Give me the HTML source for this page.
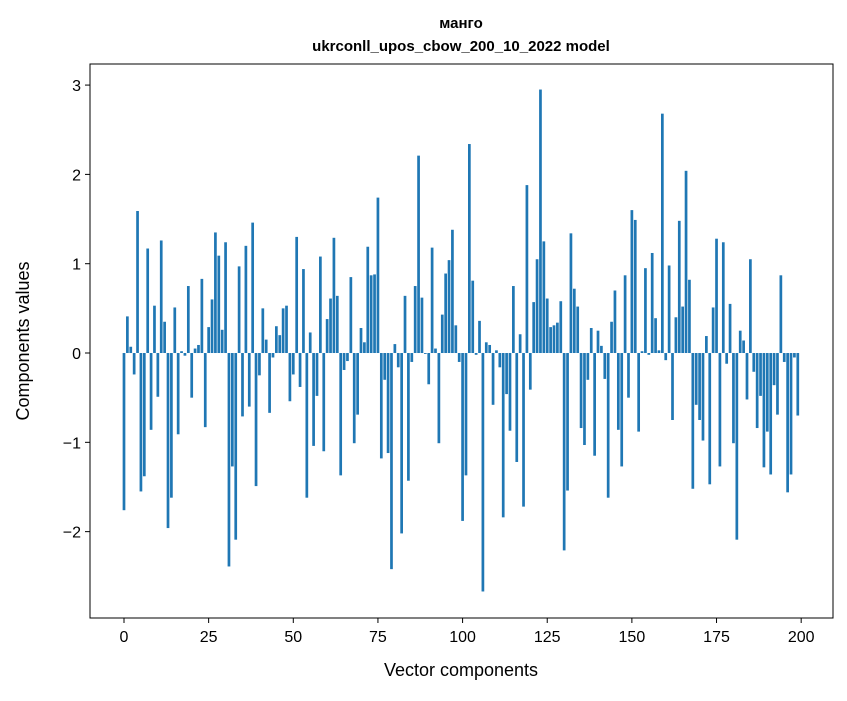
<!DOCTYPE html>
<html><head><meta charset="utf-8"><style>
body{margin:0;background:#fff;}
svg text{font-family:"Liberation Sans","DejaVu Sans",sans-serif;}
</style></head><body>
<svg id="chart" width="847" height="696" xmlns="http://www.w3.org/2000/svg">
<rect width="847" height="696" fill="#fff"/>
<text x="461" y="28" text-anchor="middle" font-size="15" font-weight="bold">манго</text>
<text x="461" y="51" text-anchor="middle" font-size="15" font-weight="bold">ukrconll_upos_cbow_200_10_2022 model</text>
<g id="bars"></g>
<g id="axes"></g>
<text x="461" y="676" text-anchor="middle" font-size="18">Vector components</text>
<text x="29" y="341" text-anchor="middle" font-size="18" transform="rotate(-90 29 341)">Components values</text>
</svg>
<script>
const values=[-1.76,0.41,0.07,-0.24,1.59,-1.55,-1.38,1.17,-0.86,0.53,-0.49,1.26,0.35,-1.96,-1.62,0.51,-0.91,0.02,-0.03,0.75,-0.5,0.05,0.09,0.83,-0.83,0.29,0.6,1.35,1.09,0.26,1.24,-2.39,-1.27,-2.09,0.97,-0.71,1.2,-0.6,1.46,-1.49,-0.25,0.5,0.15,-0.67,-0.05,0.3,0.2,0.5,0.53,-0.54,-0.24,1.3,-0.38,0.94,-1.62,0.23,-1.04,-0.48,1.08,-1.1,0.38,0.61,1.29,0.64,-1.37,-0.19,-0.09,0.85,-1.01,-0.69,0.28,0.12,1.19,0.87,0.88,1.74,-1.18,-0.3,-1.12,-2.42,0.1,-0.16,-2.02,0.64,-1.43,-0.1,0.75,2.21,0.62,-0.01,-0.35,1.18,0.05,-1.01,0.43,0.89,1.04,1.38,0.31,-0.1,-1.88,-1.37,2.34,0.81,-0.02,0.36,-2.67,0.12,0.09,-0.58,0.03,-0.16,-1.84,-0.46,-0.87,0.75,-1.22,0.21,-1.72,1.88,-0.41,0.57,1.05,2.95,1.25,0.61,0.29,0.31,0.34,0.58,-2.21,-1.54,1.34,0.72,0.52,-0.84,-1.03,-0.3,0.28,-1.15,0.25,0.08,-0.29,-1.62,0.35,0.7,-0.86,-1.27,0.87,-0.5,1.6,1.49,-0.88,0.02,0.95,-0.02,1.12,0.39,0.03,2.68,-0.08,0.98,-0.75,0.4,1.48,0.52,2.04,0.82,-1.52,-0.58,-0.75,-0.98,0.19,-1.47,0.51,1.28,-1.27,1.24,-0.12,0.55,-1.01,-2.09,0.25,0.14,-0.52,1.05,-0.21,-0.84,-0.48,-1.28,-0.88,-1.36,-0.36,-0.69,0.87,-0.1,-1.56,-1.36,-0.05,-0.7];
const xTicks=[0,25,50,75,100,125,150,175,200];
const yTicks=[-2,-1,0,1,2,3];
const NS="http://www.w3.org/2000/svg";
const L=90,R=833,T=64,B=618;
const xMin=-10.04,xMax=209.4,yMin=-2.967,yMax=3.236;
const sx=v=>L+(v-xMin)/(xMax-xMin)*(R-L);
const sy=v=>T+(yMax-v)/(yMax-yMin)*(B-T);
const bars=document.getElementById('bars');
values.forEach((v,i)=>{
  const r=document.createElementNS(NS,'rect');
  const x0=sx(i-0.4),x1=sx(i+0.4);
  const y0=sy(Math.max(v,0)),y1=sy(Math.min(v,0));
  r.setAttribute('x',x0);r.setAttribute('width',x1-x0);
  r.setAttribute('y',y0);r.setAttribute('height',Math.max(y1-y0,0.3));
  r.setAttribute('fill','#1f77b4');
  
  
  bars.appendChild(r);
});
const ax=document.getElementById('axes');
const frame=document.createElementNS(NS,'rect');
frame.setAttribute('x',L);frame.setAttribute('y',T);frame.setAttribute('width',R-L);frame.setAttribute('height',B-T);
frame.setAttribute('fill','none');frame.setAttribute('stroke','#000');frame.setAttribute('stroke-width','1');


ax.appendChild(frame);
xTicks.forEach(t=>{
  const x=sx(t);
  const l=document.createElementNS(NS,'line');
  l.setAttribute('x1',x);l.setAttribute('x2',x);l.setAttribute('y1',B);l.setAttribute('y2',B+5);l.setAttribute('stroke','#000');
  
  
  ax.appendChild(l);
  const tx=document.createElementNS(NS,'text');
  tx.setAttribute('x',x);tx.setAttribute('y',B+24);tx.setAttribute('text-anchor','middle');tx.setAttribute('font-size','16');
  tx.textContent=t;
  
  
  ax.appendChild(tx);
});
yTicks.forEach(t=>{
  const y=sy(t);
  const l=document.createElementNS(NS,'line');
  l.setAttribute('x1',L-5);l.setAttribute('x2',L);l.setAttribute('y1',y);l.setAttribute('y2',y);l.setAttribute('stroke','#000');
  
  
  ax.appendChild(l);
  const tx=document.createElementNS(NS,'text');
  tx.setAttribute('x',L-9);tx.setAttribute('y',y+6);tx.setAttribute('text-anchor','end');tx.setAttribute('font-size','16');
  tx.textContent=t<0?'\u2212'+(-t):t;
  
  
  ax.appendChild(tx);
});
</script>
</body></html>
